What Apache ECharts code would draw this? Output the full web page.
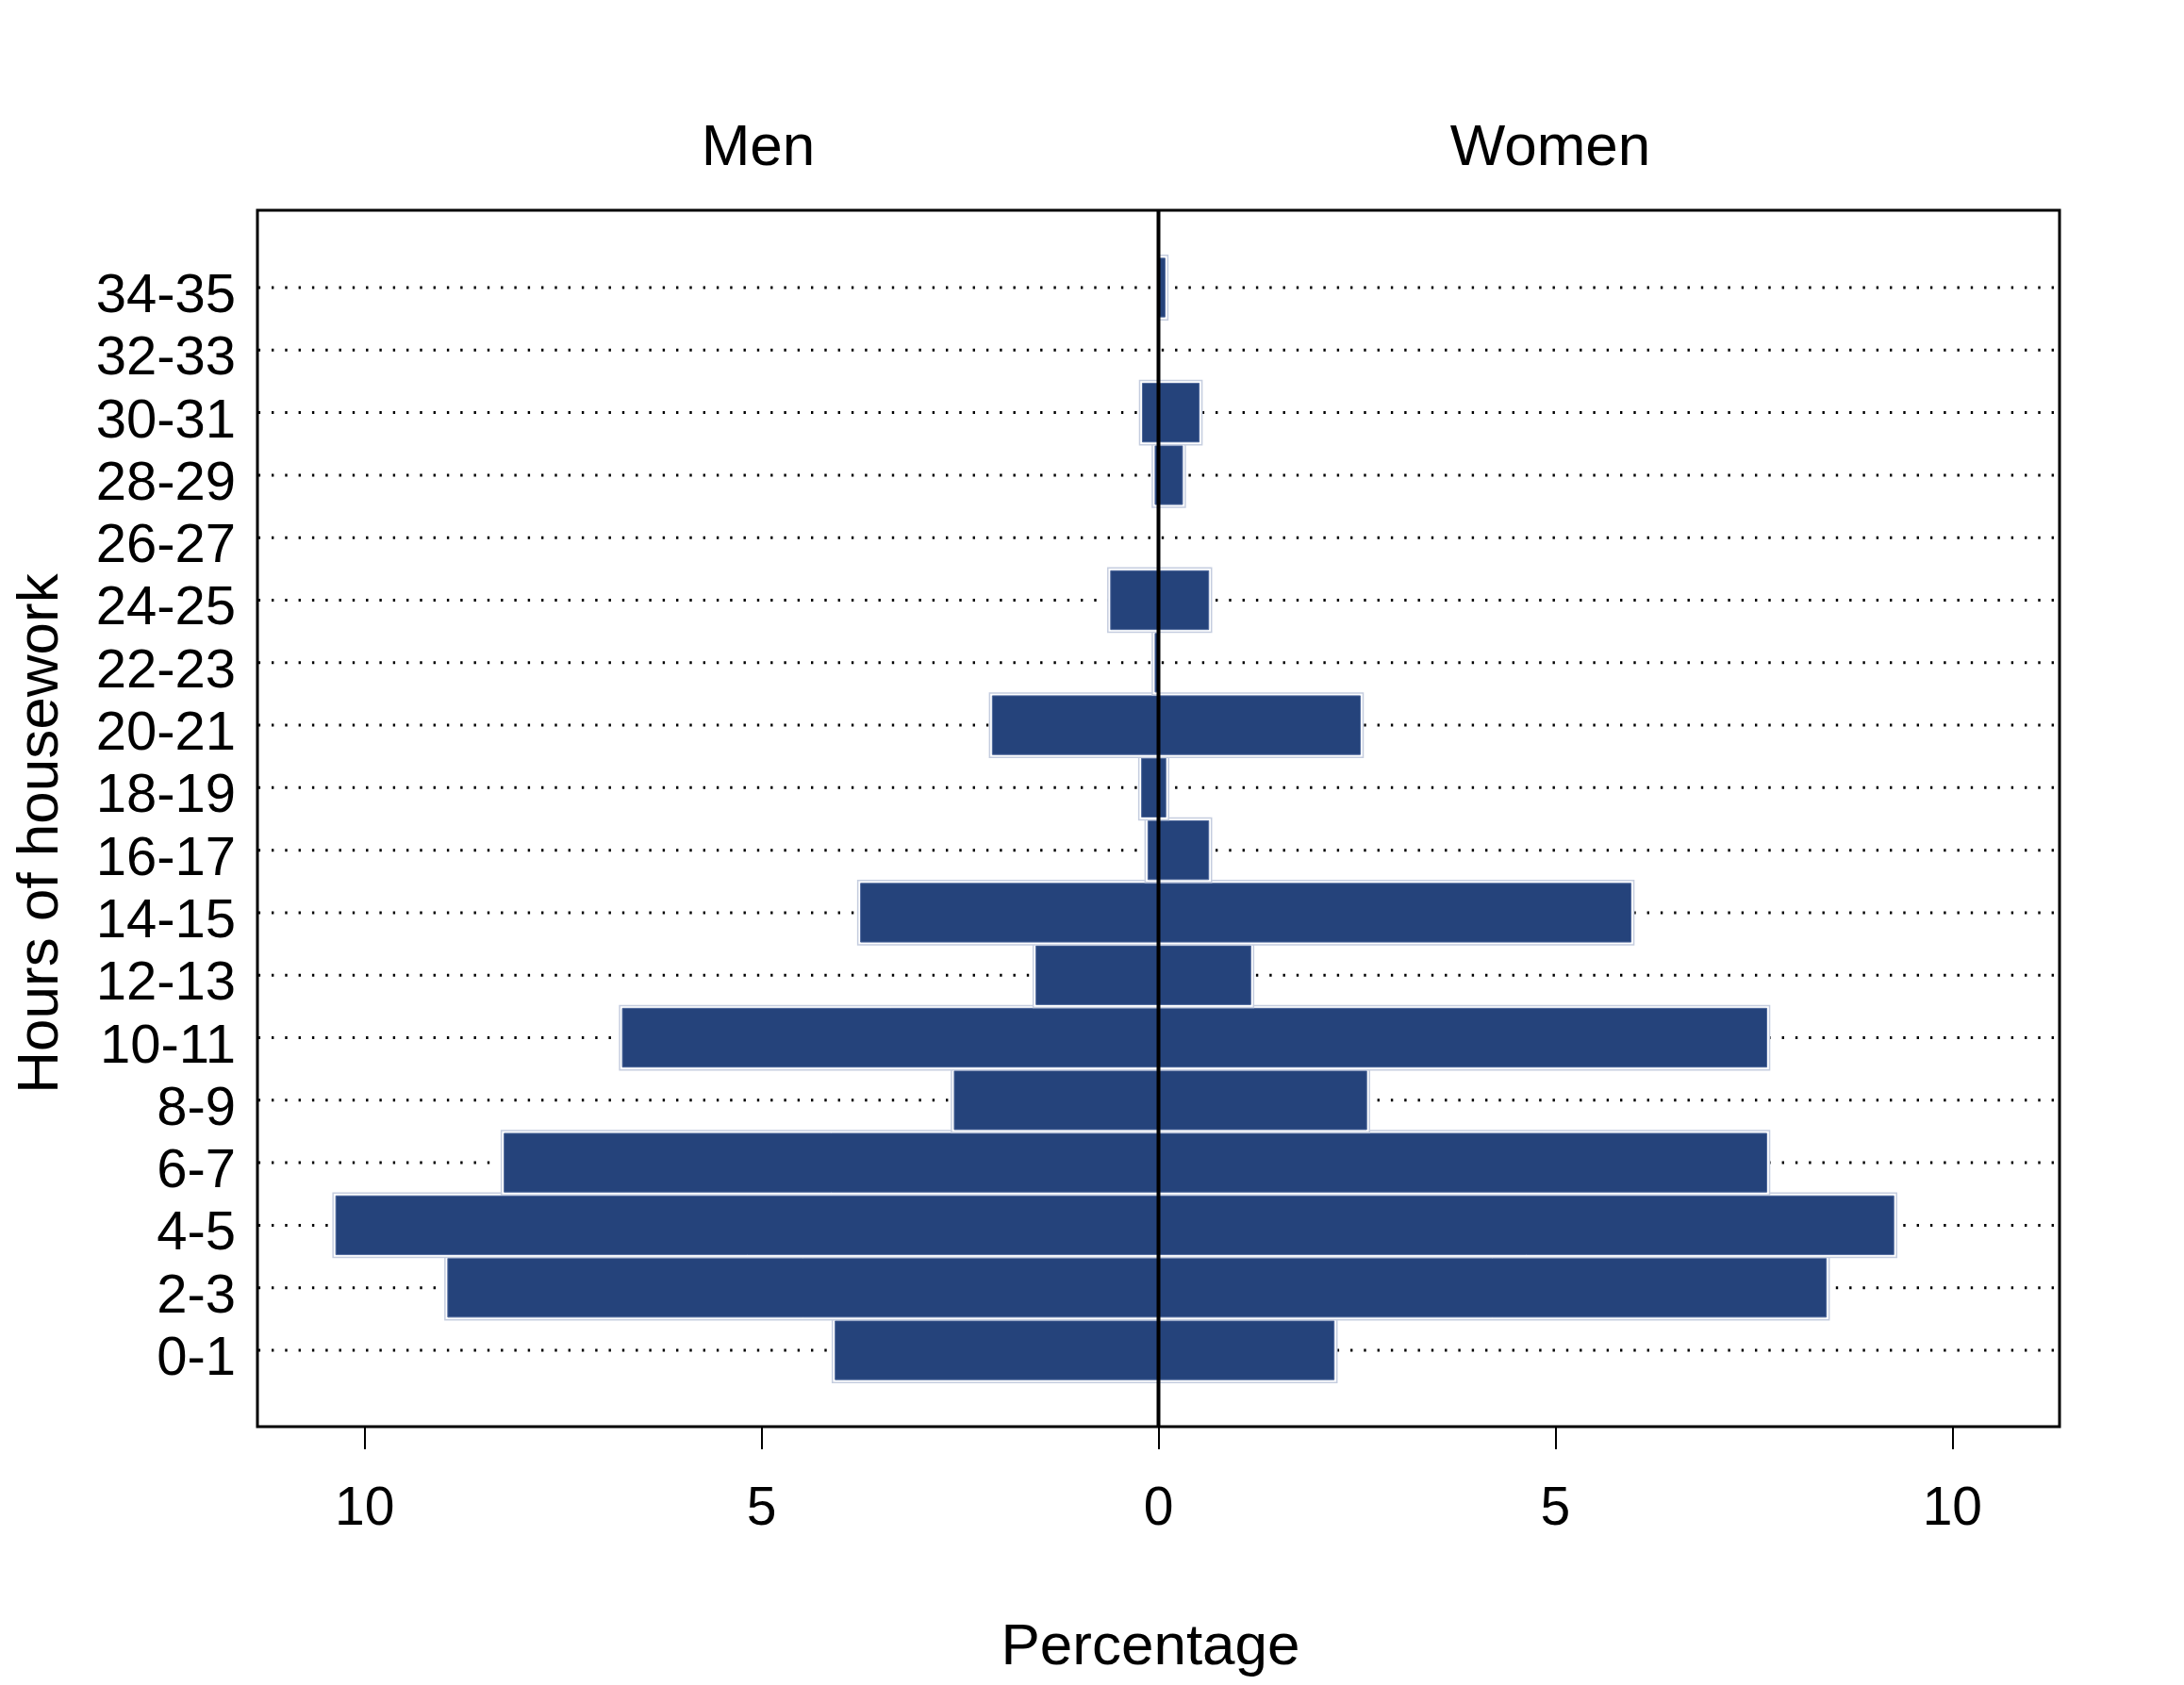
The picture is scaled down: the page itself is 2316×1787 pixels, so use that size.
<!DOCTYPE html>
<html>
<head>
<meta charset="utf-8">
<script src="https://cdn.jsdelivr.net/npm/echarts@6/dist/echarts.min.js"></script>
<style>
html,body{margin:0;padding:0;background:#ffffff;}
#c{width:2316px;height:1787px;}
</style>
</head>
<body>
<div id="c"></div>
<script>
// ---- data ----
const categories = ['0-1','2-3','4-5','6-7','8-9','10-11','12-13','14-15','16-17','18-19','20-21','22-23','24-25','26-27','28-29','30-31','32-33','34-35'];
const menPct   = [4.09, 8.97, 10.38, 8.26, 2.59, 6.77, 1.56, 3.77, 0.15, 0.23, 2.11, 0.06, 0.62, 0, 0.06, 0.22, 0, 0];
const womenPct = [2.23, 8.43, 9.28, 7.68, 2.64, 7.68, 1.18, 5.97, 0.65, 0.11, 2.56, 0, 0.65, 0, 0.32, 0.53, 0, 0.10];
const xTicks = [-10, -5, 0, 5, 10];
const panelTitles = ['Men', 'Women'];

// ---- style / layout ----
const FONT = 'Liberation Sans, Arial, Helvetica, sans-serif';
const X_MIN = -11.35, X_MAX = 11.35;
const BAR_FILL = '#25437b', BAR_EDGE = '#c5cddf', BAR_INNER = '#4d679b';

const chart = echarts.init(document.getElementById('c'), null, {renderer: 'canvas'});

function barItem(params, api) {
  const v = api.value(0), i = api.value(1);
  if (!v) return null;
  const p0 = api.coord([0, i]);
  const p1 = api.coord([v, i]);
  const slot = api.size([0, 1])[1];
  const dir = v < 0 ? -1 : 1;
  const hf = slot * 0.94, ho = slot * 1.03;
  const xf1 = p1[0] - dir * 1.5, xo1 = p1[0] + dir * 1.5;
  return {
    type: 'group',
    children: [
      {type: 'rect', shape: {x: Math.min(p0[0], xo1), y: p0[1] - ho / 2, width: Math.abs(xo1 - p0[0]), height: ho},
       style: {fill: '#ffffff', stroke: BAR_EDGE, lineWidth: 1.5}},
      {type: 'rect', shape: {x: Math.min(p0[0], xf1), y: p0[1] - hf / 2, width: Math.abs(xf1 - p0[0]), height: hf},
       style: {fill: BAR_FILL, stroke: BAR_INNER, lineWidth: 1}}
    ]
  };
}

function dotLine(params, api) {
  const i = api.value(1);
  const a = api.coord([X_MIN, i]);
  const b = api.coord([X_MAX, i]);
  return {type: 'line', shape: {x1: a[0], y1: a[1], x2: b[0], y2: b[1]},
          style: {stroke: '#000000', lineWidth: 3, lineDash: [2.4, 11.9], lineDashOffset: 13.6}};
}

function zeroLine(params, api) {
  const a = api.coord([0, 0]);
  const b = api.coord([0, 1]);
  return {type: 'line', shape: {x1: a[0], y1: a[1], x2: b[0], y2: b[1]},
          style: {stroke: '#000000', lineWidth: 4}};
}

const option = {
  backgroundColor: '#ffffff',
  animation: false,
  grid: [
    {left: 273, right: 132, top: 271.85, bottom: 321.85, show: false},
    {left: 273, right: 132, top: 223, bottom: 274, show: true, borderColor: '#000000', borderWidth: 3, backgroundColor: 'transparent'}
  ],
  xAxis: [
    {gridIndex: 0, type: 'value', min: X_MIN, max: X_MAX, show: false},
    {gridIndex: 1, type: 'value', min: X_MIN, max: X_MAX,
     axisLine: {show: false},
     splitLine: {show: false},
     axisTick: {show: true, inside: false, length: 24, lineStyle: {color: '#000', width: 2}, customValues: xTicks},
     axisLabel: {show: true, customValues: xTicks, margin: 60, color: '#000', fontSize: 57, fontFamily: FONT,
                 formatter: v => String(Math.abs(v))}}
  ],
  yAxis: [
    {gridIndex: 0, type: 'category', data: categories, boundaryGap: true,
     axisLine: {show: false}, axisTick: {show: false}, splitLine: {show: false},
     axisLabel: {margin: 23, color: '#000', fontSize: 58, fontFamily: FONT, interval: 0,
                 verticalAlign: 'top', lineHeight: 20}},
    {gridIndex: 1, type: 'value', min: 0, max: 1, show: false}
  ],
  series: [
    {type: 'custom', name: 'grid', xAxisIndex: 0, yAxisIndex: 0, z: 1, silent: true,
     renderItem: dotLine, encode: {x: 0, y: 1},
     data: categories.map((c, i) => [X_MIN, i])},
    {type: 'custom', name: 'Men', xAxisIndex: 0, yAxisIndex: 0, z: 2,
     renderItem: barItem, encode: {x: 0, y: 1},
     data: menPct.map((v, i) => [-v, i])},
    {type: 'custom', name: 'Women', xAxisIndex: 0, yAxisIndex: 0, z: 2,
     renderItem: barItem, encode: {x: 0, y: 1},
     data: womenPct.map((v, i) => [v, i])},
    {type: 'custom', name: 'zero', xAxisIndex: 1, yAxisIndex: 1, z: 3, silent: true,
     renderItem: zeroLine, encode: {x: 0, y: 1}, data: [[0, 0]]}
  ],
  graphic: [
    {type: 'text', x: 804, y: 158, style: {text: panelTitles[0], fill: '#000', fontSize: 62, fontFamily: FONT, align: 'center', verticalAlign: 'middle'}},
    {type: 'text', x: 1644, y: 158, style: {text: panelTitles[1], fill: '#000', fontSize: 62, fontFamily: FONT, align: 'center', verticalAlign: 'middle'}},
    {type: 'text', x: 1220, y: 1748, style: {text: 'Percentage', fill: '#000', fontSize: 62, fontFamily: FONT, align: 'center', verticalAlign: 'middle'}},
    {type: 'text', x: 44, y: 884, rotation: Math.PI / 2, style: {text: 'Hours of housework', fill: '#000', fontSize: 62, fontFamily: FONT, align: 'center', verticalAlign: 'middle'}}
  ]
};
chart.setOption(option);
</script>
</body>
</html>
